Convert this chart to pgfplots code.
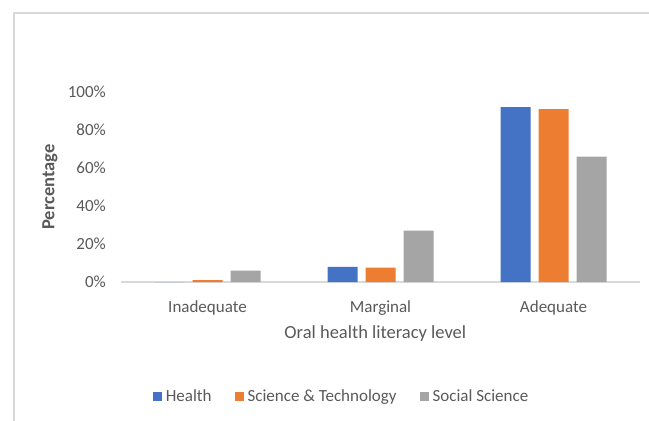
\documentclass[border=0pt]{standalone}
\usepackage{pgfplots}
\pgfplotsset{compat=1.18}
\usepackage{fontspec}
\setmainfont{Carlito}
\definecolor{cblue}{HTML}{4472C4}
\definecolor{corange}{HTML}{ED7D31}
\definecolor{cgray}{HTML}{A5A5A5}
\definecolor{textgray}{HTML}{595959}
\definecolor{linegray}{HTML}{D9D9D9}
\begin{document}
\begin{tikzpicture}
\useasboundingbox (0,0) rectangle (649bp,421bp);
\draw[line width=1.3bp, linegray] (14bp,0) -- (14bp,408bp) -- (649bp,408bp);
\begin{axis}[
  at={(121bp,139bp)}, anchor=south west,
  scale only axis, width=519bp, height=190bp,
  xmin=-0.5, xmax=2.5, ymin=0, ymax=100,
  enlargelimits=false, clip=false,
  ybar=8bp, bar width=30bp,
  xtick={0,1,2}, xticklabels={Inadequate,Marginal,Adequate},
  ytick={0,20,40,60,80,100},
  yticklabel={\pgfmathprintnumber{\tick}\%},
  /pgf/number format/assume math mode=true,
  major tick length=0pt,
  axis x line*=bottom, axis y line*=left,
  x axis line style={-, draw=linegray, line width=1.5bp},
  y axis line style={draw=none},
  tick label style={font=\fontsize{17bp}{20bp}\selectfont, text=textgray},
  yticklabel style={anchor=east, inner sep=0pt, xshift=-15bp},
  xticklabel style={anchor=base, inner sep=0pt, yshift=-30bp},
  xlabel={Oral health literacy level},
  xlabel style={at={(axis description cs:0.49,0)}, anchor=base, yshift=-56bp, inner sep=0pt, font=\fontsize{18.5bp}{22bp}\selectfont, text=textgray},
  ylabel={Percentage},
  ylabel style={at={(axis description cs:-0.1368,0.5)}, anchor=center, inner sep=0pt, font=\fontsize{18.5bp}{22bp}\selectfont\bfseries, text=textgray},
  legend columns=3,
  legend style={at={(axis description cs:0.423,-0.6)}, anchor=center, draw=none, fill=none,
    font=\fontsize{17bp}{20bp}\selectfont, text=textgray,
    nodes={inner sep=0pt},
    /tikz/every odd column/.append style={column sep=4bp},
    /tikz/every even column/.append style={column sep=23bp}},
  legend cell align=left,
  legend image code/.code={\fill[#1] (0bp,-4.5bp) rectangle (9bp,4.5bp);},
]
\addplot[fill=cblue, draw=none] coordinates {(0,0) (1,8) (2,92)};
\addplot[fill=corange, draw=none] coordinates {(0,1) (1,7.5) (2,91)};
\addplot[fill=cgray, draw=none] coordinates {(0,6) (1,27) (2,66)};
\legend{Health, Science \& Technology, Social Science}
\end{axis}
\end{tikzpicture}
\end{document}
